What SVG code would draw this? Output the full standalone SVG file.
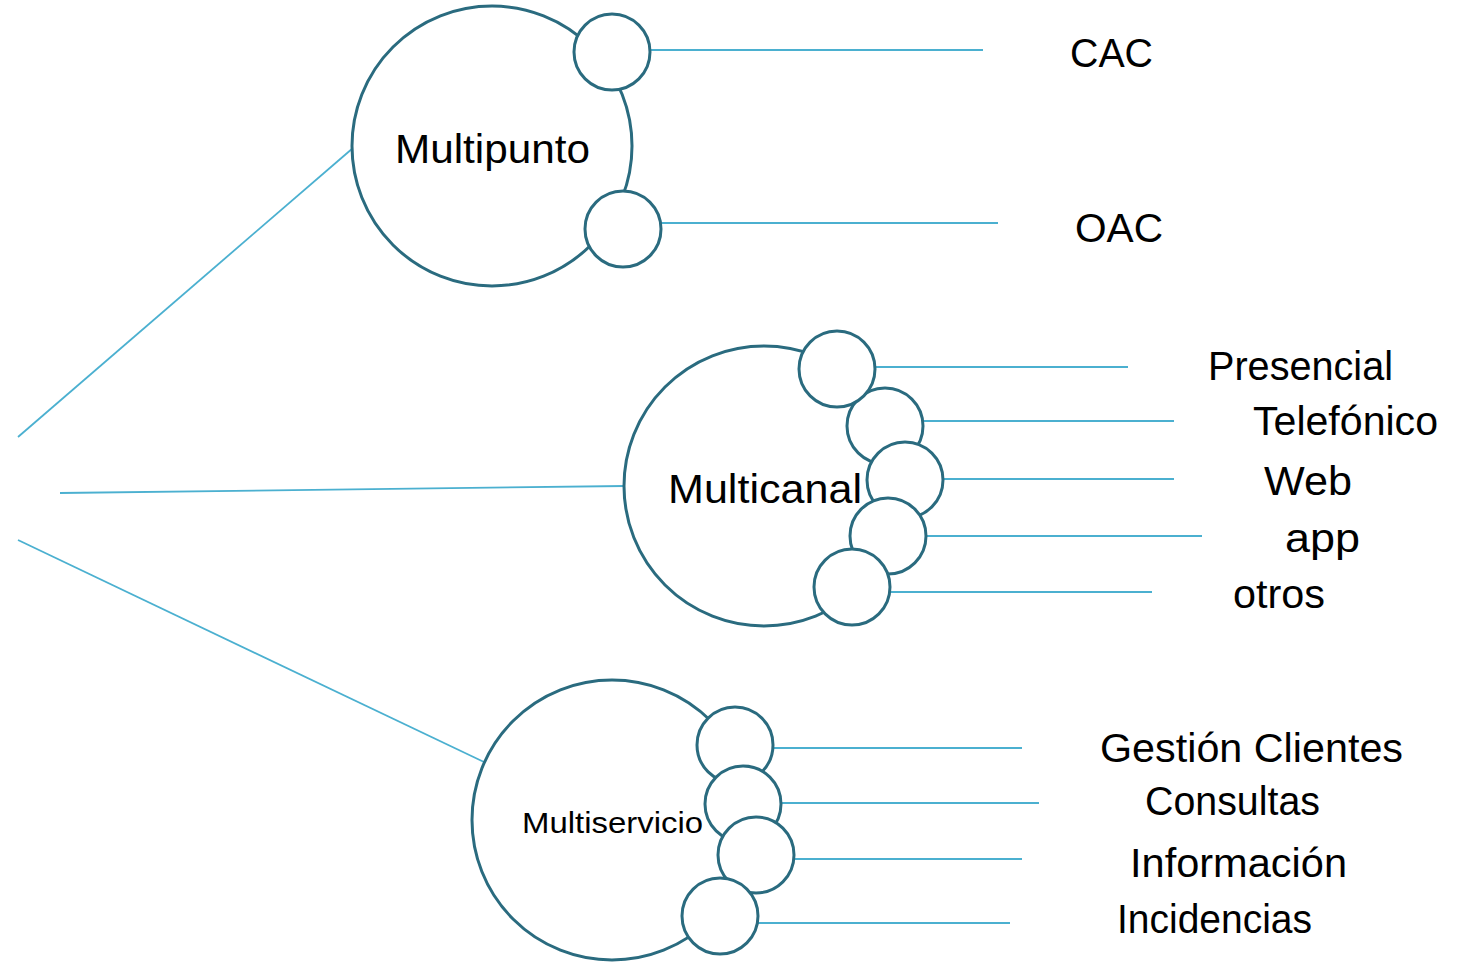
<svg xmlns="http://www.w3.org/2000/svg" width="1468" height="962" viewBox="0 0 1468 962">
<style>
.big{fill:#fff;stroke:#2A6B7F;stroke-width:3}
.sm{fill:#fff;stroke:#2A6B7F;stroke-width:3}
.ln{stroke:#4BB0D0;stroke-width:1.8;fill:none}
.t{font-family:"Liberation Sans","DejaVu Sans",sans-serif;font-size:40px;fill:#000}
.ts{font-family:"Liberation Sans","DejaVu Sans",sans-serif;font-size:29px;fill:#000}
</style>
<rect width="1468" height="962" fill="#fff"/>
<g id="connectors">
<line class="ln" x1="18" y1="437" x2="353" y2="148"/>
<line class="ln" x1="60" y1="493" x2="625" y2="486"/>
<line class="ln" x1="18" y1="540" x2="484" y2="762"/>
<line class="ln" x1="650" y1="50" x2="983" y2="50"/>
<line class="ln" x1="661" y1="223" x2="998" y2="223"/>
<line class="ln" x1="875" y1="367" x2="1128" y2="367"/>
<line class="ln" x1="923" y1="421" x2="1174" y2="421"/>
<line class="ln" x1="943" y1="479" x2="1174" y2="479"/>
<line class="ln" x1="926" y1="536" x2="1202" y2="536"/>
<line class="ln" x1="890" y1="592" x2="1152" y2="592"/>
<line class="ln" x1="774" y1="748" x2="1022" y2="748"/>
<line class="ln" x1="782" y1="803" x2="1039" y2="803"/>
<line class="ln" x1="795" y1="859" x2="1022" y2="859"/>
<line class="ln" x1="758" y1="923" x2="1010" y2="923"/>
</g>
<g id="multipunto">
<circle class="big" cx="492" cy="146" r="140"/>
<text class="t" x="395" y="163" textLength="195" lengthAdjust="spacingAndGlyphs">Multipunto</text>
</g>
<g id="cac-node"><circle class="sm" cx="612" cy="52" r="38"/></g>
<g id="oac-node"><circle class="sm" cx="623" cy="229" r="38"/></g>
<g id="multicanal">
<circle class="big" cx="764" cy="486" r="140"/>
<text class="t" x="668" y="503" textLength="194" lengthAdjust="spacingAndGlyphs">Multicanal</text>
</g>
<g id="telefonico-node"><circle class="sm" cx="885" cy="426" r="38"/></g>
<g id="presencial-node"><circle class="sm" cx="837" cy="369" r="38"/></g>
<g id="web-node"><circle class="sm" cx="905" cy="480" r="38"/></g>
<g id="app-node"><circle class="sm" cx="888" cy="536" r="38"/></g>
<g id="otros-node"><circle class="sm" cx="852" cy="587" r="38"/></g>
<g id="multiservicio">
<circle class="big" cx="612" cy="820" r="140"/>
<text class="ts" x="522" y="833" textLength="181" lengthAdjust="spacingAndGlyphs">Multiservicio</text>
</g>
<g id="gestion-node"><circle class="sm" cx="735" cy="745" r="38"/></g>
<g id="consultas-node"><circle class="sm" cx="743" cy="804" r="38"/></g>
<g id="informacion-node"><circle class="sm" cx="756" cy="855" r="38"/></g>
<g id="incidencias-node"><circle class="sm" cx="720" cy="916" r="38"/></g>
<g id="labels">
<text class="t" x="1070" y="67" textLength="83" lengthAdjust="spacingAndGlyphs">CAC</text>
<text class="t" x="1075" y="242" textLength="88" lengthAdjust="spacingAndGlyphs">OAC</text>
<text class="t" x="1208" y="380" textLength="185" lengthAdjust="spacingAndGlyphs">Presencial</text>
<text class="t" x="1253" y="435" textLength="185" lengthAdjust="spacingAndGlyphs">Telefónico</text>
<text class="t" x="1264" y="495" textLength="88" lengthAdjust="spacingAndGlyphs">Web</text>
<text class="t" x="1285" y="552" textLength="75" lengthAdjust="spacingAndGlyphs">app</text>
<text class="t" x="1233" y="608" textLength="92" lengthAdjust="spacingAndGlyphs">otros</text>
<text class="t" x="1100" y="762" textLength="303" lengthAdjust="spacingAndGlyphs">Gestión Clientes</text>
<text class="t" x="1145" y="815" textLength="175" lengthAdjust="spacingAndGlyphs">Consultas</text>
<text class="t" x="1130" y="877" textLength="217" lengthAdjust="spacingAndGlyphs">Información</text>
<text class="t" x="1117" y="933" textLength="195" lengthAdjust="spacingAndGlyphs">Incidencias</text>
</g>
</svg>
